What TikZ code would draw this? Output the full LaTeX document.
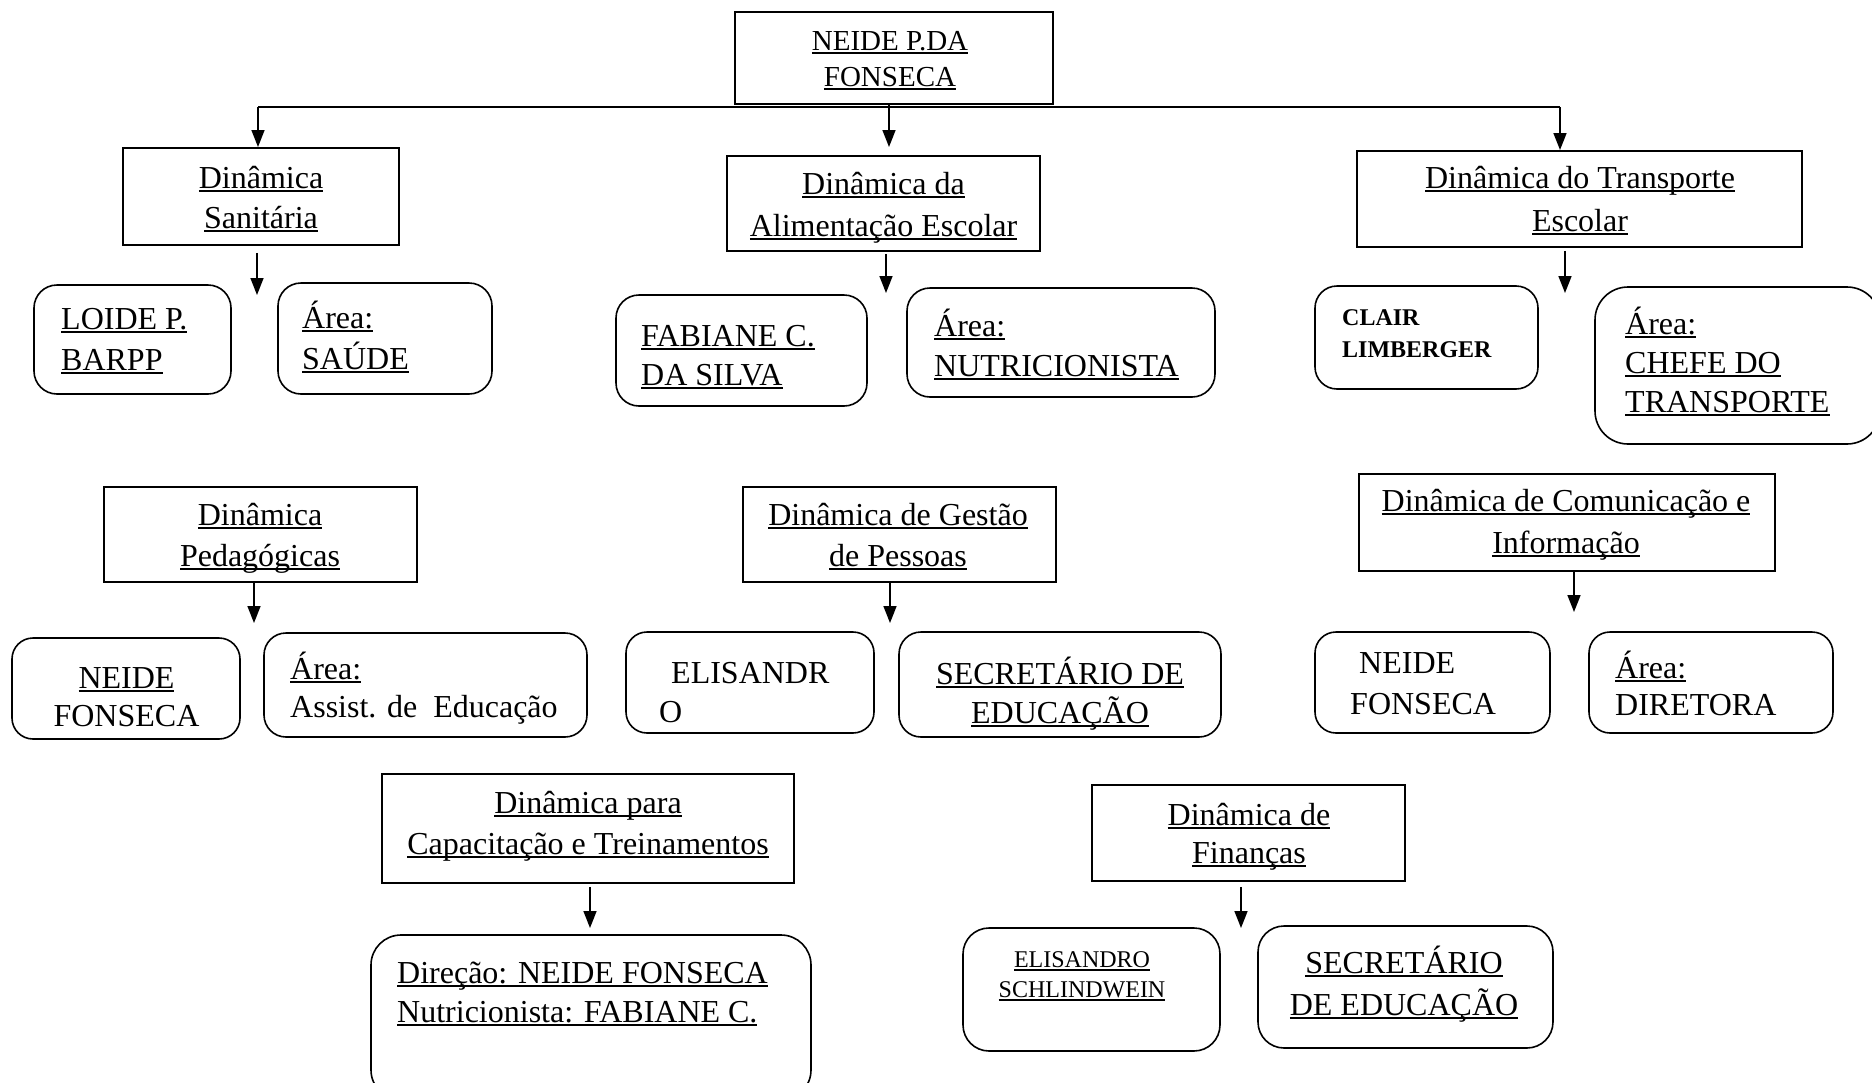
\documentclass[tikz,border=0pt]{standalone}
\usepackage{fontspec}
\setmainfont{Liberation Serif}
\usetikzlibrary{arrows.meta}
\newcommand\ulx[1]{\leavevmode\setbox0\hbox{#1}\rlap{\rule[-4pt]{\wd0}{2pt}}\box0}
\newcommand\cblock[2]{\vtop{\baselineskip=#1pt\lineskiplimit=-1000pt\lineskip=0pt\halign{\hfil##\hfil\cr#2\crcr}}}
\newcommand\lblock[2]{\vtop{\baselineskip=#1pt\lineskiplimit=-1000pt\lineskip=0pt\halign{##\hfil\cr#2\crcr}}}
\newcommand\mkbox[6]{\node[#1, minimum width={#5-#3}, minimum height={#6-#4}] (#2) at ({(#3+#5)/2},{(#4+#6)/2}) {};}
\tikzset{
  ln/.style={line width=1.6pt},
  arr/.style={line width=1.6pt, -{Triangle[length=17pt,width=13pt]}},
  sbox/.style={draw, line width=1.6pt, inner sep=0pt},
  rbox/.style={sbox, rounded corners=#1},
  rbox/.default=22pt,
  tx/.style={inner sep=0pt, font=\fontsize{32}{38}\selectfont},
  txs/.style={inner sep=0pt, font=\fontsize{29}{36}\selectfont},
  txm/.style={inner sep=0pt, font=\fontsize{24}{30}\selectfont},
}
\begin{document}
\begin{tikzpicture}[x=1pt,y=-1pt]
\useasboundingbox (0,0) rectangle (1872,1082);
\clip (0,0) rectangle (1872,1082);
% header boxes
\mkbox{sbox}{top}{735}{12}{1053}{104}
\mkbox{sbox}{san}{123}{148}{399}{245}
\mkbox{sbox}{ali}{727}{156}{1040}{251}
\mkbox{sbox}{tra}{1357}{151}{1802}{247}
\mkbox{sbox}{ped}{104}{487}{417}{582}
\mkbox{sbox}{ges}{743}{487}{1056}{582}
\mkbox{sbox}{com}{1359}{474}{1775}{571}
\mkbox{sbox}{cap}{382}{774}{794}{883}
\mkbox{sbox}{fin}{1092}{785}{1405}{881}
% rounded boxes
\mkbox{rbox=23pt}{loide}{34}{285}{231}{394}
\mkbox{rbox=23pt}{saude}{278}{283}{492}{394}
\mkbox{rbox=23pt}{fab}{616}{295}{867}{406}
\mkbox{rbox=23pt}{nutr}{907}{288}{1215}{397}
\mkbox{rbox=22pt}{clair}{1315}{286}{1538}{389}
\mkbox{rbox=33pt}{chefe}{1595}{287}{1880}{444}
\mkbox{rbox=21pt}{neidea}{12}{638}{240}{739}
\mkbox{rbox=22pt}{assist}{264}{633}{587}{737}
\mkbox{rbox=21pt}{elis}{626}{632}{874}{733}
\mkbox{rbox=22pt}{seca}{899}{632}{1221}{737}
\mkbox{rbox=21pt}{neideb}{1315}{632}{1550}{733}
\mkbox{rbox=21pt}{dir}{1589}{632}{1833}{733}
\mkbox{rbox=30pt}{direc}{371}{935}{811}{1100}
\mkbox{rbox=26pt}{elisb}{963}{928}{1220}{1051}
\mkbox{rbox=26pt}{secb}{1258}{926}{1553}{1048}
% header texts
\node[txs, anchor=base] (topt) at (890,50) {\cblock{36}{\ulx{NEIDE P.DA}\cr\ulx{FONSECA}}};
\node[tx, anchor=base] (sant) at (261,188) {\cblock{40}{\ulx{Dinâmica}\cr\ulx{Sanitária}}};
\node[tx, anchor=base] (alit) at (883.5,194) {\cblock{42}{\ulx{Dinâmica da}\cr\ulx{Alimentação Escolar}}};
\node[tx, anchor=base] (trat) at (1580,188) {\cblock{43}{\ulx{Dinâmica do Transporte}\cr\ulx{Escolar}}};
\node[tx, anchor=base] (pedt) at (260,525) {\cblock{41}{\ulx{Dinâmica}\cr\ulx{Pedagógicas}}};
\node[tx, anchor=base] (gest) at (898,525) {\cblock{41}{\ulx{Dinâmica de Gestão}\cr\ulx{de Pessoas}}};
\node[tx, anchor=base] (comt) at (1566,511) {\cblock{42}{\ulx{Dinâmica de Comunicação e}\cr\ulx{Informação}}};
\node[tx, anchor=base] (capt) at (588,813) {\cblock{41}{\ulx{Dinâmica para}\cr\ulx{Capacitação e Treinamentos}}};
\node[tx, anchor=base] (fint) at (1249,825) {\cblock{38}{\ulx{Dinâmica de}\cr\ulx{Finanças}}};
% child texts
\node[tx, anchor=base west] (loidet) at (61,329) {\lblock{41}{\ulx{LOIDE P.}\cr\ulx{BARPP}}};
\node[tx, anchor=base west] (saudet) at (302,328) {\lblock{41}{\ulx{Área:}\cr\ulx{SAÚDE}}};
\node[tx, anchor=base west] (fabt) at (641,346) {\lblock{39}{\ulx{FABIANE C.}\cr\ulx{DA SILVA}}};
\node[tx, anchor=base west] (nutrt) at (934,336) {\lblock{40}{\ulx{Área:}\cr\ulx{NUTRICIONISTA}}};
\node[txm, anchor=base west] (clairt) at (1342,325) {\lblock{32}{\bfseries CLAIR\cr\bfseries LIMBERGER}};
\node[tx, anchor=base west] (chefet) at (1625,334) {\lblock{39}{\ulx{Área:}\cr\ulx{CHEFE DO}\cr\ulx{TRANSPORTE}}};
\node[tx, anchor=base] (neideat) at (126.5,688) {\cblock{38}{\ulx{NEIDE}\cr FONSECA}};
\node[tx, anchor=base west] (assistt) at (290,679) {\lblock{38}{\ulx{Área:}\cr Assist. de\ \ Educação}};
\node[tx, anchor=base west] (elist) at (659,683) {\lblock{39}{\kern12pt ELISANDR\cr O}};
\node[tx, anchor=base] (secat) at (1060,684) {\cblock{39}{\ulx{SECRETÁRIO DE}\cr\ulx{EDUCAÇÃO}}};
\node[tx, anchor=base west] (neidebt) at (1350,673) {\lblock{41}{\kern9pt NEIDE\cr FONSECA}};
\node[tx, anchor=base west] (dirt) at (1615,678) {\lblock{37}{\ulx{Área:}\cr DIRETORA}};
\node[tx, anchor=base west] (direct) at (397,983) {\lblock{39}{\ulx{Direção: NEIDE FONSECA}\cr\ulx{Nutricionista: FABIANE C.}}};
\node[txm, anchor=base] (elisbt) at (1082,967) {\cblock{30}{\ulx{ELISANDRO}\cr\ulx{SCHLINDWEIN}}};
\node[tx, anchor=base] (secbt) at (1404,973) {\cblock{42}{\ulx{SECRETÁRIO}\cr\ulx{DE EDUCAÇÃO}}};
% connectors
\coordinate (hL) at (258,107);
\coordinate (hR) at (1560,107);
\coordinate (t1) at (258,147);
\coordinate (t2) at (889,147);
\coordinate (t3) at (1560,150);
\coordinate (t4) at (257,295);
\coordinate (t5) at (886,293);
\coordinate (t6) at (1565,293);
\coordinate (t7) at (254,623);
\coordinate (t8) at (890,623);
\coordinate (t9) at (1574,612);
\coordinate (t10) at (590,928);
\coordinate (t11) at (1241,928);
\draw[ln] (hL) -- (hR);
\draw[arr] (hL) -- (t1);
\draw[arr] (t2 |- top.south) -- (t2);
\draw[arr] (hR) -- (t3);
\draw[arr, shorten <=7pt] (t4 |- san.south) -- (t4);
\draw[arr, shorten <=2pt] (t5 |- ali.south) -- (t5);
\draw[arr, shorten <=3pt] (t6 |- tra.south) -- (t6);
\draw[arr] (t7 |- ped.south) -- (t7);
\draw[arr] (t8 |- ges.south) -- (t8);
\draw[arr] (t9 |- com.south) -- (t9);
\draw[arr, shorten <=3pt] (t10 |- cap.south) -- (t10);
\draw[arr, shorten <=5pt] (t11 |- fin.south) -- (t11);
\end{tikzpicture}
\end{document}
